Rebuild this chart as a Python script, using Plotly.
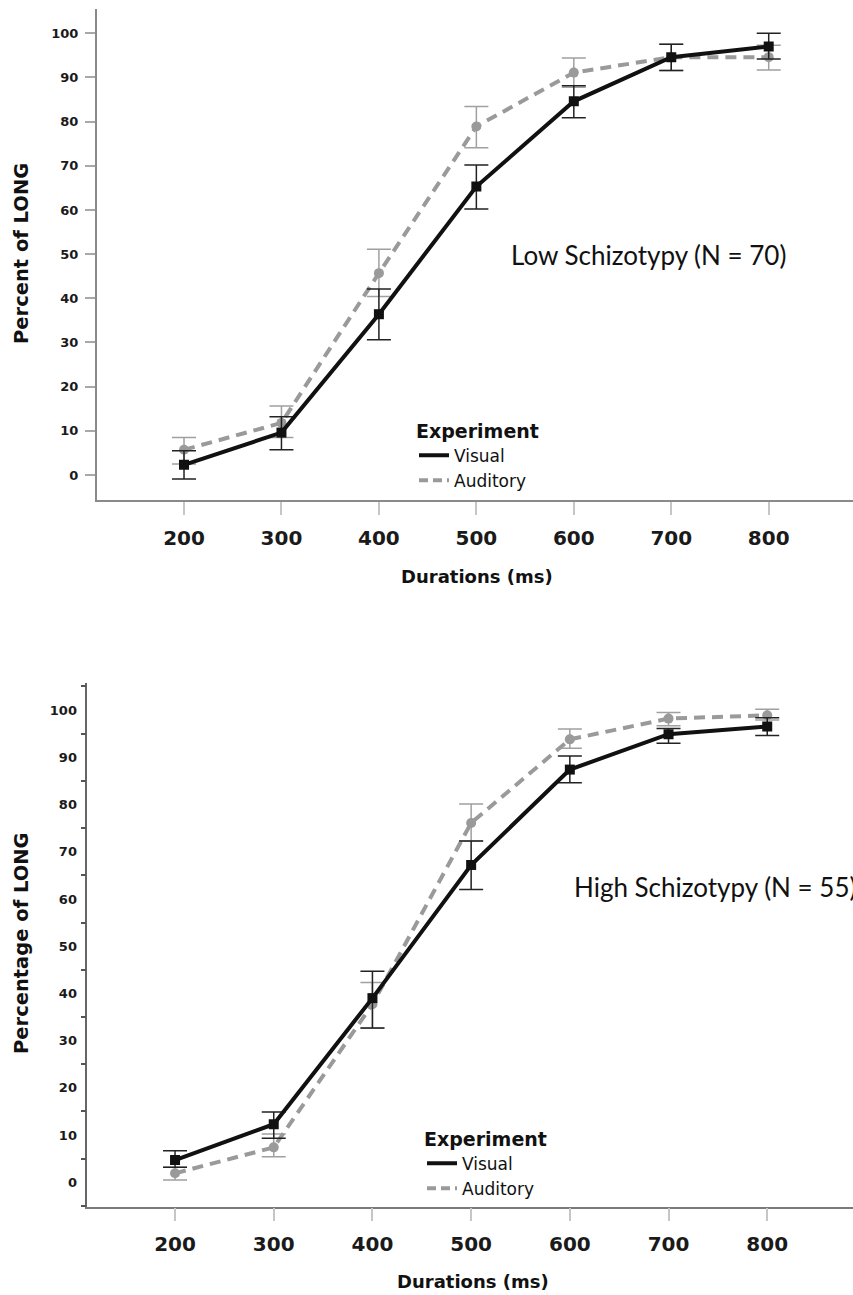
import plotly.graph_objects as go

# Stimulus durations (ms)
durations = [200, 300, 400, 500, 600, 700, 800]

# Low schizotypy group: mean % LONG responses with CI bounds
low_visual = [2.3, 9.6, 36.4, 65.3, 84.6, 94.6, 97.0]
low_visual_hi = [5.5, 13.2, 42.1, 70.2, 88.1, 97.5, 100.0]
low_visual_lo = [-0.9, 5.7, 30.6, 60.2, 80.9, 91.6, 94.2]
low_auditory = [5.7, 11.8, 45.7, 78.9, 91.1, 94.6, 94.6]
low_auditory_hi = [8.5, 15.6, 51.1, 83.4, 94.4, 97.5, 97.3]
low_auditory_lo = [2.5, 8.5, 40.4, 74.1, 87.8, 91.6, 91.7]

# High schizotypy group
high_visual = [4.7, 12.3, 39.0, 67.2, 87.4, 94.9, 96.5]
high_visual_hi = [6.7, 14.9, 44.7, 72.3, 90.3, 96.1, 98.4]
high_visual_lo = [3.2, 9.3, 32.7, 62.0, 84.6, 93.0, 94.6]
high_auditory = [1.9, 7.4, 37.7, 76.1, 93.8, 98.2, 98.9]
high_auditory_hi = [3.2, 10.2, 42.3, 80.1, 96.0, 99.5, 100.2]
high_auditory_lo = [0.5, 5.4, 32.6, 72.3, 91.9, 96.7, 97.9]

y_ticks = [0, 10, 20, 30, 40, 50, 60, 70, 80, 90, 100]
y_minor = [-5, 5, 15, 25, 35, 45, 55, 65, 75, 85, 95, 105]

W, H = 853, 1295
BLACK = "#111111"
GRAY = "#9a9a9a"
BOLD = "DejaVu Sans"


def fx(p):
    return p / W


def fy(p):
    return 1 - p / H


def err(mean, hi, lo):
    return ([h - m for m, h in zip(mean, hi)],
            [m - l for m, l in zip(mean, lo)])


fig = go.Figure()


def add_group(xa, ya, legend, vis, vis_hi, vis_lo, aud, aud_hi, aud_lo):
    a_up, a_dn = err(aud, aud_hi, aud_lo)
    v_up, v_dn = err(vis, vis_hi, vis_lo)
    fig.add_trace(go.Scatter(
        x=durations, y=aud, xaxis=xa, yaxis=ya, mode="lines+markers",
        showlegend=False,
        line=dict(color=GRAY, width=4, dash="11px,7px"),
        marker=dict(symbol="circle", size=10, color=GRAY),
        error_y=dict(type="data", symmetric=False, array=a_up, arrayminus=a_dn,
                     color="#a0a0a0", thickness=1.5, width=12)))
    fig.add_trace(go.Scatter(
        x=durations, y=vis, xaxis=xa, yaxis=ya, mode="lines+markers",
        showlegend=False,
        line=dict(color=BLACK, width=4),
        marker=dict(symbol="square", size=10, color=BLACK),
        error_y=dict(type="data", symmetric=False, array=v_up, arrayminus=v_dn,
                     color="#222222", thickness=1.5, width=12)))
    # legend entries (line samples only)
    fig.add_trace(go.Scatter(
        x=[None], y=[None], xaxis=xa, yaxis=ya, mode="lines", name="Visual",
        legend=legend, line=dict(color=BLACK, width=4)))
    fig.add_trace(go.Scatter(
        x=[None], y=[None], xaxis=xa, yaxis=ya, mode="lines", name="Auditory",
        legend=legend, line=dict(color=GRAY, width=4, dash="9px,5px")))


add_group("x", "y", "legend", low_visual, low_visual_hi, low_visual_lo,
          low_auditory, low_auditory_hi, low_auditory_lo)
add_group("x2", "y2", "legend2", high_visual, high_visual_hi, high_visual_lo,
          high_auditory, high_auditory_hi, high_auditory_lo)

xtick_font = dict(family=BOLD, size=20, color="#1a1a1a", weight="bold")
ytick_font = dict(family=BOLD, size=13, color="#1a1a1a", weight="bold")

legend_common = dict(
    xanchor="left", yanchor="top", bgcolor="rgba(0,0,0,0)",
    font=dict(family="DejaVu Sans", size=17, color="#111111"),
    itemwidth=30, tracegroupgap=0, traceorder="normal",
)
legend_title_font = dict(family=BOLD, size=19, color="#111111", weight="bold")

fig.update_layout(
    width=W, height=H,
    margin=dict(l=0, r=0, t=0, b=0),
    paper_bgcolor="white", plot_bgcolor="white",
    xaxis=dict(
        domain=[fx(96.7), 1], range=[110.4, 886.5], anchor="y",
        tickmode="array", tickvals=durations, tickfont=xtick_font,
        ticks="outside", ticklen=13, tickwidth=2, tickcolor="#c6c6c6",
        ticklabelstandoff=6,
        showline=True, linecolor="#8a8a8a", linewidth=1.5,
        showgrid=False, zeroline=False,
    ),
    yaxis=dict(
        domain=[fy(500), fy(9)], range=[-5.66, 105.5], anchor="x",
        tickmode="array", tickvals=y_ticks, tickfont=ytick_font,
        ticks="outside", ticklen=10, tickwidth=1.5, tickcolor="#a8a8a8",
        ticklabelstandoff=4,
        showline=True, linecolor="#8a8a8a", linewidth=1.5,
        showgrid=False, zeroline=False,
    ),
    xaxis2=dict(
        domain=[fx(87.3), 1], range=[111.1, 886.9], anchor="y2",
        tickmode="array", tickvals=durations, tickfont=xtick_font,
        ticks="outside", ticklen=13, tickwidth=2, tickcolor="#c6c6c6",
        ticklabelstandoff=6,
        showline=True, linecolor="#7a7a7a", linewidth=1.5,
        showgrid=False, zeroline=False,
    ),
    yaxis2=dict(
        domain=[fy(1206.7), fy(682.7)], range=[-5.17, 105.8], anchor="x2",
        tickmode="array", tickvals=y_ticks, tickfont=ytick_font,
        ticks="", ticklabelstandoff=6,
        minor=dict(tickmode="array", tickvals=y_minor, ticks="outside",
                   ticklen=5, tickwidth=1.5, tickcolor="#555555"),
        showline=True, linecolor="#666666", linewidth=1.5,
        showgrid=False, zeroline=False,
    ),
    legend=dict(
        x=fx(414), y=fy(413),
        title=dict(text="Experiment", font=legend_title_font),
        **legend_common,
    ),
    legend2=dict(
        x=fx(422), y=fy(1121),
        title=dict(text="Experiment", font=legend_title_font),
        **legend_common,
    ),
    showlegend=True,
)

title_font = dict(family=BOLD, size=18, color="#111111", weight="bold")
ytitle_font = dict(family=BOLD, size=19.5, color="#111111", weight="bold")
group_font = dict(family="Lato", size=26, color="#111111")

annotations = [
    # axis titles
    dict(text="Percent of LONG", x=fx(22), y=fy(254), textangle=-90,
         font=ytitle_font),
    dict(text="Durations (ms)", x=fx(477), y=fy(577), font=title_font),
    dict(text="Percentage of LONG", x=fx(21), y=fy(943), textangle=-90,
         font=ytitle_font),
    dict(text="Durations (ms)", x=fx(473), y=fy(1281), font=title_font),
    # group labels
    dict(text="Low Schizotypy (N = 70)", x=fx(509), y=fy(255), xanchor="left",
         font=group_font),
    dict(text="High Schizotypy (N = 55)", x=fx(572), y=fy(887), xanchor="left",
         font=group_font),
]
for a in annotations:
    a.update(xref="paper", yref="paper", showarrow=False)
    a.setdefault("xanchor", "center")
    a.setdefault("yanchor", "middle")
fig.update_layout(annotations=annotations)

fig.write_html("out.html")
